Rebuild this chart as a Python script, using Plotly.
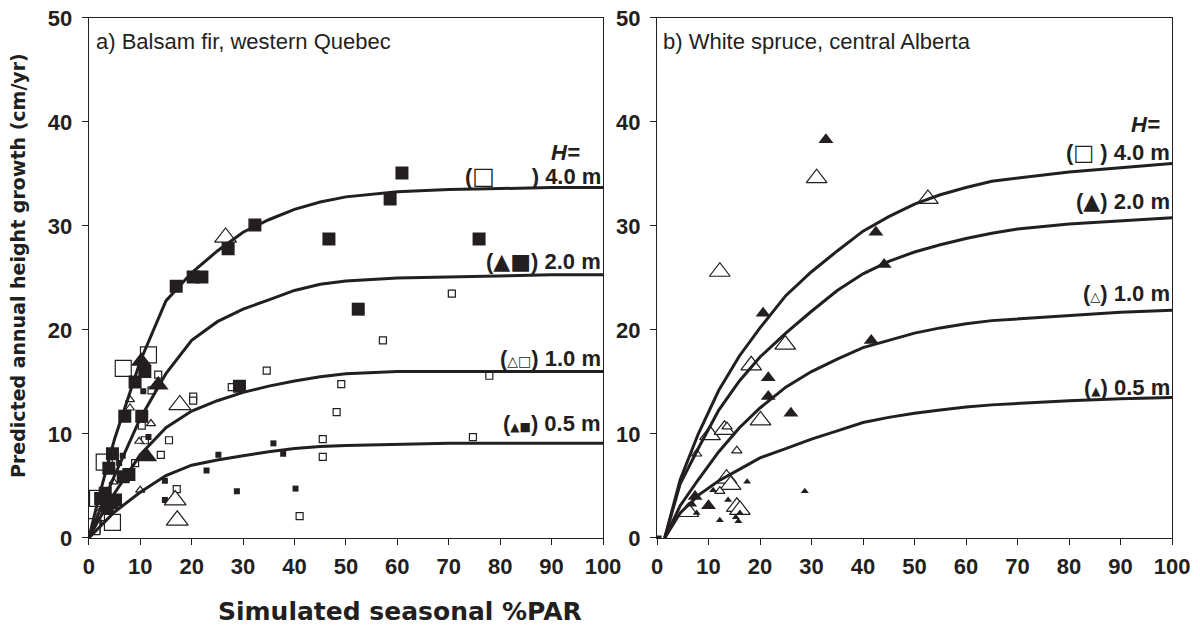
import plotly.graph_objects as go

# ---------------- data: panel a (balsam fir) ----------------
a_curve_x = [0, 2, 5, 10, 15, 20, 25, 30, 35, 40, 45, 50, 60, 70, 80, 90, 100]
a_h40 = [0, 4.0, 9.5, 17.0, 22.8, 25.5, 27.6, 29.4, 30.6, 31.6, 32.3, 32.8, 33.3, 33.5, 33.6, 33.7, 33.7]
a_h20 = [0, 2.5, 6.0, 11.5, 15.8, 19.0, 20.8, 22.0, 22.9, 23.8, 24.4, 24.7, 25.0, 25.1, 25.2, 25.3, 25.3]
a_h10 = [0, 1.8, 4.3, 8.0, 10.6, 12.2, 13.2, 14.0, 14.6, 15.1, 15.5, 15.8, 16.0, 16.0, 16.0, 16.0, 16.0]
a_h05 = [0, 1.0, 2.5, 4.4, 6.0, 7.0, 7.5, 7.9, 8.3, 8.6, 8.8, 8.9, 9.0, 9.1, 9.1, 9.1, 9.1]

a_bfsq_x = [60.9, 58.6, 75.9, 46.7, 52.4, 32.3, 27.1, 20.3, 22.0, 17.0, 29.3, 10.9, 9.0, 7.0, 10.3, 4.6, 3.9, 7.8, 6.7, 3.2, 5.2, 2.3, 3.6, 4.5]
a_bfsq_y = [35.1, 32.6, 28.75, 28.75, 22.0, 30.1, 27.8, 25.1, 25.1, 24.2, 14.6, 16.0, 15.0, 11.7, 11.7, 8.1, 6.7, 6.1, 5.9, 4.3, 3.65, 3.8, 2.9, 3.4]
a_bosq_x = [6.7, 11.6, 3.0, 1.7, 4.6, 0.6]
a_bosq_y = [16.3, 17.6, 7.3, 3.8, 1.5, 1.1]
a_sfsq_x = [35.9, 37.8, 25.2, 22.9, 14.8, 14.8, 28.8, 40.2, 10.6, 6.6, 5.9, 11.6, 2.0]
a_sfsq_y = [9.1, 8.1, 8.0, 6.5, 5.5, 3.65, 4.5, 4.75, 14.1, 7.9, 7.2, 9.7, 1.5]
a_sosq_x = [34.6, 49.1, 48.2, 45.5, 45.5, 41.0, 20.3, 20.3, 15.6, 14.0, 17.1, 27.8, 70.6, 57.2, 77.9, 74.7, 10.9, 10.3, 13.5, 12.2, 9.0, 2.5, 1.5]
a_sosq_y = [16.1, 14.8, 12.1, 9.5, 7.8, 2.1, 13.6, 13.2, 9.4, 8.0, 4.7, 14.5, 23.5, 19.0, 15.6, 9.7, 9.4, 10.8, 15.7, 14.2, 7.2, 2.0, 0.8]
a_bftri_x = [10.2, 13.5, 11.3]
a_bftri_y = [17.0, 14.7, 7.8]
a_botri_x = [26.6, 17.7, 16.8, 17.2]
a_botri_y = [28.9, 12.8, 3.65, 1.7]
a_sotri_x = [8.0, 8.0, 12.1, 9.8, 10.0, 4.8, 4.3, 2.0]
a_sotri_y = [13.3, 12.5, 11.0, 9.3, 4.6, 5.4, 6.4, 2.5]

# ---------------- data: panel b (white spruce) ----------------
b_curve_x = [1.5, 4.5, 8, 12, 16, 20, 25, 30, 35, 40, 45, 50, 55, 60, 65, 70, 80, 90, 100]
b_h40 = [0, 5.6, 10.0, 14.2, 17.5, 20.2, 23.3, 25.6, 27.6, 29.5, 30.9, 32.1, 33.0, 33.7, 34.3, 34.6, 35.2, 35.6, 36.0]
b_h20 = [0, 5.2, 8.6, 12.3, 15.1, 17.4, 19.7, 21.8, 23.8, 25.4, 26.6, 27.5, 28.2, 28.8, 29.3, 29.7, 30.2, 30.5, 30.8]
b_h10 = [0, 3.1, 5.6, 8.3, 10.6, 12.5, 14.5, 16.0, 17.2, 18.3, 19.0, 19.7, 20.2, 20.6, 20.9, 21.05, 21.4, 21.7, 21.9]
b_h05 = [0, 2.4, 4.1, 5.5, 6.6, 7.7, 8.6, 9.5, 10.3, 11.1, 11.6, 12.0, 12.3, 12.6, 12.8, 12.95, 13.2, 13.4, 13.5]

b_bftri_x = [32.8, 42.5, 44.1, 20.6, 21.6, 21.6, 26.0, 41.6, 7.4, 10.0]
b_bftri_y = [38.3, 29.4, 26.3, 21.6, 15.4, 13.6, 12.0, 19.0, 4.0, 3.1]
b_botri_x = [31.0, 52.6, 12.2, 24.9, 18.3, 20.1, 10.3, 13.1, 13.5, 14.3, 15.5, 16.1, 6.1]
b_botri_y = [34.6, 32.6, 25.6, 18.6, 16.6, 11.3, 9.9, 10.4, 5.7, 5.1, 3.0, 2.7, 2.5]
b_sotri_x = [15.5, 7.7, 12.2, 13.6]
b_sotri_y = [8.4, 8.1, 4.5, 10.7]
b_sftri_x = [17.5, 28.7, 13.8, 12.2, 15.8, 15.3, 16.1, 7.7, 7.0, 10.9]
b_sftri_y = [5.4, 4.5, 3.65, 1.7, 1.6, 2.0, 2.4, 2.4, 3.2, 4.6]
b_orig_x = [0.4]
b_orig_y = [0]

x_ticks = [0, 10, 20, 30, 40, 50, 60, 70, 80, 90, 100]
y_ticks = [0, 10, 20, 30, 40, 50]

DARK = "#231f20"
fig = go.Figure()


def pts(x, y, xa, ya, symbol, size, filled):
    fig.add_trace(go.Scatter(
        x=x, y=y, mode="markers", xaxis=xa, yaxis=ya, showlegend=False,
        marker=dict(symbol=symbol, size=size,
                    color=DARK if filled else "white",
                    line=dict(color=DARK, width=1.2 if not filled else 0))))


def curve(x, y, xa, ya):
    fig.add_trace(go.Scatter(x=x, y=y, mode="lines", xaxis=xa, yaxis=ya,
                             showlegend=False, line=dict(color=DARK, width=3)))

# panel a markers
pts(a_sosq_x, a_sosq_y, "x", "y", "square", 7, False)
pts(a_sfsq_x, a_sfsq_y, "x", "y", "square", 6, True)
pts(a_sotri_x, a_sotri_y, "x", "y", "triangle-up", 8, False)
pts(a_bosq_x, a_bosq_y, "x", "y", "square", 16, False)
pts(a_botri_x, a_botri_y, "x", "y", "triangle-up", 19, False)
pts(a_bfsq_x, a_bfsq_y, "x", "y", "square", 13, True)
pts(a_bftri_x, a_bftri_y, "x", "y", "triangle-up", 18, True)
for yy in (a_h40, a_h20, a_h10, a_h05):
    curve(a_curve_x, yy, "x", "y")

# panel b markers
pts(b_botri_x, b_botri_y, "x2", "y2", "triangle-up", 18, False)
pts(b_sotri_x, b_sotri_y, "x2", "y2", "triangle-up", 9, False)
pts(b_sftri_x, b_sftri_y, "x2", "y2", "triangle-up", 7, True)
pts(b_bftri_x, b_bftri_y, "x2", "y2", "triangle-up", 13, True)
pts(b_orig_x, b_orig_y, "x2", "y2", "square", 5, True)
for yy in (b_h40, b_h20, b_h10, b_h05):
    curve(b_curve_x, yy, "x2", "y2")

tickfont = dict(family="Liberation Sans, Arial, sans-serif", size=22, color=DARK, weight="bold")
ax_common = dict(range=[0, 100], tickvals=x_ticks, ticks="outside", ticklen=6,
                 tickwidth=1.3, tickcolor=DARK, showline=True, linecolor=DARK,
                 linewidth=1.3, mirror=True, showgrid=False, zeroline=False,
                 tickfont=tickfont, automargin=False, ticklabelstandoff=2)
ay_common = dict(range=[0, 50], tickvals=y_ticks, ticks="outside", ticklen=6,
                 tickwidth=1.3, tickcolor=DARK, showline=True, linecolor=DARK,
                 linewidth=1.3, mirror=True, showgrid=False, zeroline=False,
                 tickfont=tickfont, automargin=False, ticklabelstandoff=5)

ydom = [0.1474, 0.9715]
fig.update_layout(
    template="none",
    width=1200, height=631, margin=dict(l=0, r=0, t=0, b=0, autoexpand=False),
    paper_bgcolor="white", plot_bgcolor="white",
    xaxis=dict(domain=[0.074, 0.5025], anchor="y", **ax_common),
    yaxis=dict(domain=ydom, anchor="x", **ay_common),
    xaxis2=dict(domain=[0.5475, 0.9767], anchor="y2", **ax_common),
    yaxis2=dict(domain=ydom, anchor="x2", **ay_common),
)

lab = dict(family="Liberation Sans, Arial, sans-serif", size=22, color=DARK)
ttl = dict(family="Liberation Sans, Arial, sans-serif", size=22, color=DARK)
S = "<span style='font-family:DejaVu Sans;font-size:%dpx'>%s</span>"
anns = [
    dict(x=1.0, y=47.7, xref="x", yref="y", text="a) Balsam fir, western Quebec",
         xanchor="left", yanchor="middle", font=ttl),
    dict(x=0.8, y=47.7, xref="x2", yref="y2", text="b) White spruce, central Alberta",
         xanchor="left", yanchor="middle", font=ttl),
    # panel a labels
    dict(x=92.7, y=37.1, xref="x", yref="y", text="<b><i>H=</i></b>", xanchor="center", yanchor="middle", font=lab),
    dict(x=100, y=34.8, xref="x", yref="y",
         text="<b>(" + S % (24, "□") + "      ) 4.0 m</b>", xanchor="right", yanchor="middle", font=lab),
    dict(x=100, y=26.6, xref="x", yref="y",
         text="<b>(" + S % (22, "▲■") + ") 2.0 m</b>", xanchor="right", yanchor="middle", font=lab),
    dict(x=100, y=17.3, xref="x", yref="y",
         text="<b>(" + S % (14, "△□") + ") 1.0 m</b>", xanchor="right", yanchor="middle", font=lab),
    dict(x=100, y=11.0, xref="x", yref="y",
         text="<b>(" + S % (12, "▲■") + ") 0.5 m</b>", xanchor="right", yanchor="middle", font=lab),
    # panel b labels
    dict(x=94.8, y=39.8, xref="x2", yref="y2", text="<b><i>H=</i></b>", xanchor="center", yanchor="middle", font=lab),
    dict(x=100, y=37.1, xref="x2", yref="y2",
         text="<b>(" + S % (22, "□") + " ) 4.0 m</b>", xanchor="right", yanchor="middle", font=lab),
    dict(x=100, y=32.4, xref="x2", yref="y2",
         text="<b>(" + S % (22, "▲") + ") 2.0 m</b>", xanchor="right", yanchor="middle", font=lab),
    dict(x=100, y=23.5, xref="x2", yref="y2",
         text="<b>(" + S % (13, "△") + ") 1.0 m</b>", xanchor="right", yanchor="middle", font=lab),
    dict(x=100, y=14.5, xref="x2", yref="y2",
         text="<b>(" + S % (12, "▲") + ") 0.5 m</b>", xanchor="right", yanchor="middle", font=lab),
    # axis titles
    dict(x=400 / 1200, y=(631 - 611) / 631, xref="paper", yref="paper",
         text="<b>Simulated seasonal %PAR</b>", xanchor="center", yanchor="middle",
         font=dict(family="DejaVu Sans, sans-serif", size=25, color=DARK)),
    dict(x=18 / 1200, y=(631 - 266) / 631, xref="paper", yref="paper", textangle=-90,
         text="<b>Predicted annual height growth (cm/yr)</b>", xanchor="center", yanchor="middle",
         font=dict(family="DejaVu Sans, sans-serif", size=19, color=DARK)),
]
for a in anns:
    a.setdefault("showarrow", False)
fig.update_layout(annotations=anns)

fig.write_html("out.html", config={"displayModeBar": False},
               post_script="document.body.style.margin='0';")
